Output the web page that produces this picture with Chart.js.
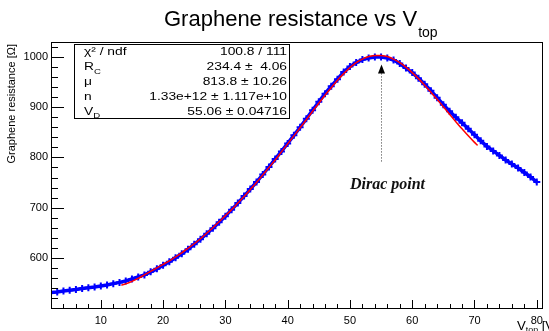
<!DOCTYPE html>
<html>
<head>
<meta charset="utf-8">
<script src="https://cdn.jsdelivr.net/npm/chart.js@4/dist/chart.umd.min.js"></script>
<style>
  html, body { margin: 0; padding: 0; background: #fff; }
  #wrap { width: 549px; height: 331px; }
</style>
</head>
<body>
<div id="wrap"><canvas id="chart" width="549" height="331"></canvas></div>
<script>
// measured points (blue markers)
const voltage = [2, 3, 4, 5, 6, 7, 8, 9, 10, 11, 12, 13, 14, 15, 16, 17, 18, 19, 20, 21,
  22, 23, 24, 25, 26, 27, 28, 29, 30, 31, 32, 33, 34, 35, 36, 37, 38, 39, 40, 41,
  42, 43, 44, 45, 46, 47, 48, 49, 50, 51, 52, 53, 54, 55, 56, 57, 58, 59, 60, 61,
  62, 63, 64, 65, 66, 67, 68, 69, 70, 71, 72, 73, 74, 75, 76, 77, 78, 79, 80];
const resistance = [531, 532, 534, 535.5, 537, 539, 540.5, 542, 544, 546, 548.5, 551, 554, 558, 562, 566, 572, 578, 585, 592,
  600, 608, 617, 627, 637, 648, 659, 671, 683, 696, 709, 723, 737, 751, 766, 781, 797, 812, 828, 844,
  860, 877, 894, 911, 927, 942, 956, 970, 981, 989, 995, 998, 1000, 1000, 998, 994, 987, 978, 969, 958,
  946, 933, 919, 905, 892, 880, 869, 857, 845, 833, 822, 813, 804, 795, 787, 779, 770, 761, 751];

// fit curve (red)
const fitVoltage = [13.3, 14, 15, 16, 17, 18, 19, 20, 21, 22, 23, 24, 25, 26, 27, 28, 29, 30, 31, 32,
  33, 34, 35, 36, 37, 38, 39, 40, 41, 42, 43, 44, 45, 46, 47, 48, 49, 50, 51, 52,
  53, 54, 55, 56, 57, 58, 59, 60, 61, 62, 63, 64, 65, 66, 67, 68, 69, 70, 70.5];
const fitResistance = [545.5, 548, 553, 559, 566, 573, 580, 587, 594, 602, 610, 619, 628, 638, 649, 660, 672, 684, 696, 709,
  722, 736, 750, 765, 780, 795, 811, 827, 843, 859, 875, 892, 908, 924, 939, 954, 967, 979, 989, 996,
  1001, 1003, 1003, 1001, 996, 989, 980, 969, 957, 944, 930, 916, 901, 886, 871, 857, 843, 830, 824];

const xTickValues = [10, 20, 30, 40, 50, 60, 70, 80];
const yTickValues = [600, 700, 800, 900, 1000];

const statNames = ['χ² / ndf', 'R_C', 'μ', 'n', 'V_D'];
const statValues = ['100.8 / 111', '234.4 ±  4.06', '813.8 ± 10.26', '1.33e+12 ± 1.117e+10', '55.06 ± 0.04716'];

const diracVoltage = 55.06;

// text squeezed/stretched horizontally, like the original root canvas
function stretchText(ctx, text, x, y, size, sx, align) {
  ctx.save();
  ctx.font = size + 'px "Liberation Sans"';
  const w = ctx.measureText(text).width * sx;
  const x0 = align === 'right' ? x - w : x;
  ctx.translate(x0, y);
  ctx.scale(sx, 1);
  ctx.textAlign = 'left';
  ctx.fillText(text, 0, 0);
  ctx.restore();
  return w;
}

// "R_C" style label with a subscript
function drawSub(ctx, text, x, y, size, sx) {
  const parts = text.split('_');
  const w1 = stretchText(ctx, parts[0], x, y, size, sx, 'left');
  if (parts[1]) {
    stretchText(ctx, parts[1], x + w1, y + size * 0.3, Math.round(size * 0.7), sx, 'left');
  }
}

const rootFrame = {
  id: 'rootFrame',
  afterDraw(chart) {
    const ctx = chart.ctx;
    const a = chart.chartArea;
    const xs = chart.scales.x;
    const ys = chart.scales.y;
    ctx.save();

    // frame
    ctx.strokeStyle = '#000';
    ctx.lineWidth = 1;
    ctx.strokeRect(a.left + 0.5, a.top + 0.5, a.right - a.left - 1, a.bottom - a.top);

    // ticks, pointing inward
    ctx.beginPath();
    for (let v = 2; v <= 81; v += 2) {
      const px = Math.round(xs.getPixelForValue(v)) + 0.5;
      const len = v % 10 === 0 ? 8 : 4;
      ctx.moveTo(px, a.bottom);
      ctx.lineTo(px, a.bottom - len);
    }
    for (let v = 520; v <= 1030; v += 20) {
      const py = Math.round(ys.getPixelForValue(v)) + 0.5;
      const len = v % 100 === 0 ? 13 : 7;
      ctx.moveTo(a.left, py);
      ctx.lineTo(a.left + len, py);
    }
    ctx.stroke();

    // title
    ctx.fillStyle = '#000';
    ctx.textBaseline = 'alphabetic';
    ctx.font = '22px "Liberation Sans"';
    ctx.textAlign = 'left';
    const t = 'Graphene resistance vs V';
    ctx.fillText(t, 164, 26);
    const tw = ctx.measureText(t).width;
    ctx.font = '14px "Liberation Sans"';
    ctx.fillText('top', 164 + tw + 1, 37);

    // y axis title, aligned to the top of the axis
    ctx.save();
    ctx.translate(15, a.top);
    ctx.rotate(-Math.PI / 2);
    ctx.font = '11px "Liberation Sans"';
    ctx.textAlign = 'right';
    ctx.fillText('Graphene resistance [Ω]', -2, 0);
    ctx.restore();

    // x axis title
    let xt = 517;
    xt += stretchText(ctx, 'V', xt, 330, 12, 1.1, 'left');
    xt += stretchText(ctx, 'top', xt, 332, 8, 1.1, 'left');
    stretchText(ctx, ' [V]', xt, 330, 12, 1.1, 'left');

    // stats box
    const bx = 74, by = 44, bw = 215, bh = 74;
    ctx.fillStyle = '#fff';
    ctx.fillRect(bx, by, bw, bh);
    ctx.strokeStyle = '#000';
    ctx.strokeRect(bx + 0.5, by + 0.5, bw, bh);
    ctx.fillStyle = '#000';
    const rowH = bh / statNames.length;
    statNames.forEach((name, i) => {
      const yb = by + rowH * i + rowH / 2 + 4;
      drawSub(ctx, name, bx + 10, yb, 11.5, 1.2);
      stretchText(ctx, statValues[i], bx + bw - 2, yb, 11.5, 1.2, 'right');
    });

    // Dirac point arrow
    const ax = Math.round(xs.getPixelForValue(diracVoltage)) + 0.5;
    const yLow = ys.getPixelForValue(792);
    const yTip = ys.getPixelForValue(985);
    ctx.strokeStyle = '#333';
    ctx.setLineDash([1, 2]);
    ctx.beginPath();
    ctx.moveTo(ax, yLow);
    ctx.lineTo(ax, yTip + 8);
    ctx.stroke();
    ctx.setLineDash([]);
    ctx.fillStyle = '#000';
    ctx.beginPath();
    ctx.moveTo(ax, yTip);
    ctx.lineTo(ax - 3.5, yTip + 9);
    ctx.lineTo(ax + 3.5, yTip + 9);
    ctx.closePath();
    ctx.fill();

    ctx.font = 'bold italic 16px "Liberation Serif"';
    ctx.textAlign = 'center';
    ctx.fillStyle = '#111';
    ctx.fillText('Dirac point', ax + 6, ys.getPixelForValue(748) + 5);

    ctx.restore();
  }
};

const ctx = document.getElementById('chart').getContext('2d');
new Chart(ctx, {
  type: 'scatter',
  data: {
    datasets: [
      {
        label: 'data',
        data: voltage.map((v, i) => ({ x: v, y: resistance[i] })),
        pointStyle: 'cross',
        pointRadius: 3.5,
        pointBorderWidth: 2,
        borderColor: '#0000ff',
        backgroundColor: '#0000ff',
        showLine: true,
        borderWidth: 3.5,
        order: 2
      },
      {
        label: 'fit',
        data: fitVoltage.map((v, i) => ({ x: v, y: fitResistance[i] })),
        showLine: true,
        borderColor: '#ff0000',
        borderWidth: 1.5,
        pointRadius: 0,
        tension: 0.3,
        order: 1
      }
    ]
  },
  options: {
    responsive: false,
    animation: false,
    devicePixelRatio: 1,
    layout: { padding: { top: 42, right: 1, left: 0, bottom: 0 } },
    plugins: {
      legend: { display: false },
      tooltip: { enabled: false },
      title: { display: false }
    },
    scales: {
      x: {
        type: 'linear',
        min: 2,
        max: 81,
        grid: { display: false, drawTicks: false },
        border: { display: false },
        afterBuildTicks: (scale) => { scale.ticks = xTickValues.map(v => ({ value: v })); },
        afterFit: (scale) => { scale.height = 23; },
        ticks: {
          autoSkip: false,
          maxRotation: 0,
          padding: 6,
          color: '#000',
          font: { family: 'Liberation Sans', size: 11 },
          callback: (value) => `${value}`
        }
      },
      y: {
        min: 500,
        max: 1030,
        grid: { display: false, drawTicks: false },
        border: { display: false },
        afterBuildTicks: (scale) => { scale.ticks = yTickValues.map(v => ({ value: v })); },
        afterFit: (scale) => { scale.width = 51; },
        ticks: {
          autoSkip: false,
          padding: 3,
          color: '#000',
          font: { family: 'Liberation Sans', size: 11 },
          callback: (value) => `${value}`
        }
      }
    }
  },
  plugins: [rootFrame]
});
</script>
</body>
</html>
